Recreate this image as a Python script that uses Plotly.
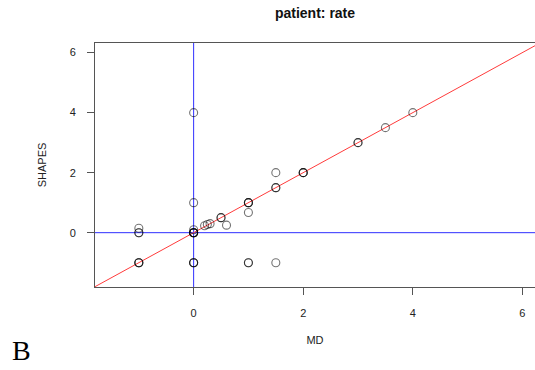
import plotly.graph_objects as go

# Data (duplicates reflect overplotted points)
MD = [-1, -1, -1, -1, -1, -1,
      0, 0, 0, 0, 0, 0, 0, 0, 0, 0, 0,
      0.2, 0.25, 0.3, 0.5, 0.5, 0.6,
      1, 1, 1, 1, 1, 1,
      1.5, 1.5, 1.5, 1.5,
      2, 2, 2, 3, 3, 3.5, 4]
SHAPES = [-1, -1, -1, 0, 0, 0.15,
          4, 1, 0, 0, 0, 0, 0, 0.1, -1, -1, -1,
          0.23, 0.27, 0.3, 0.5, 0.5, 0.25,
          1, 1, 1, 0.67, -1, -1,
          1.5, 1.5, 2, -1,
          2, 2, 2, 3, 3, 3.5, 4]

X_TICKS = [0, 2, 4, 6]
Y_TICKS = [0, 2, 4, 6]
X_RANGE = [-1.80, 6.23]
Y_RANGE = [-1.81, 6.32]
TITLE = "patient: rate"
X_LABEL = "MD"
Y_LABEL = "SHAPES"
PANEL = "B"

fig = go.Figure()

fig.add_trace(go.Scatter(
    x=MD, y=SHAPES, mode="markers",
    marker=dict(symbol="circle-open", size=8, color="rgba(0,0,0,0.55)",
                line=dict(width=1.1, color="rgba(0,0,0,0.55)")),
    showlegend=False, hoverinfo="skip", cliponaxis=False))

# reference lines
fig.add_shape(type="line", xref="paper", yref="y", x0=0, x1=1, y0=0, y1=0,
              line=dict(color="#2f2fff", width=1), layer="below")
fig.add_shape(type="line", xref="x", yref="paper", x0=0, x1=0, y0=0, y1=1,
              line=dict(color="#2f2fff", width=1), layer="below")
lo = max(X_RANGE[0], Y_RANGE[0])
hi = min(X_RANGE[1], Y_RANGE[1])
fig.add_shape(type="line", xref="x", yref="y", x0=lo, y0=lo, x1=hi, y1=hi,
              line=dict(color="#ff3b3b", width=1), layer="below")

axis_font = dict(family="Liberation Sans, Arial, sans-serif", size=11, color="#222")

fig.update_xaxes(range=X_RANGE, tickvals=X_TICKS, ticks="outside", ticklen=7,
                 tickcolor="#555", showline=True, linecolor="#555", linewidth=1,
                 mirror=True, showgrid=False, zeroline=False, automargin=False,
                 tickfont=axis_font, ticklabelstandoff=9,
                 title=dict(text=X_LABEL, font=axis_font, standoff=18))
fig.update_yaxes(range=Y_RANGE, tickvals=Y_TICKS, ticks="outside", ticklen=7,
                 tickcolor="#555", showline=True, linecolor="#555", linewidth=1,
                 mirror=False, showgrid=False, zeroline=False, automargin=False,
                 tickfont=axis_font, ticklabelstandoff=9,
                 title=dict(text=Y_LABEL, font=axis_font, standoff=20))

fig.add_annotation(text=PANEL, xref="paper", yref="paper",
                   x=(21.5 - 95) / 440, y=(287 - 350) / 244,
                   showarrow=False, xanchor="center", yanchor="middle",
                   font=dict(family="Liberation Serif, Times New Roman, serif",
                             size=28, color="black"))

fig.update_layout(
    width=535, height=370,
    margin=dict(l=95, r=0, t=43, b=83, autoexpand=False),
    paper_bgcolor="white", plot_bgcolor="white",
    title=dict(text="<b>" + TITLE + "</b>", x=0.5, xref="paper",
               y=1 - 13 / 370, yref="container", yanchor="middle",
               font=dict(family="Liberation Sans, Arial, sans-serif", size=14, color="#111")),
)

fig.write_html("out.html", config={"displayModeBar": False},
               post_script="document.body.style.margin='0';document.body.style.overflow='hidden';")
